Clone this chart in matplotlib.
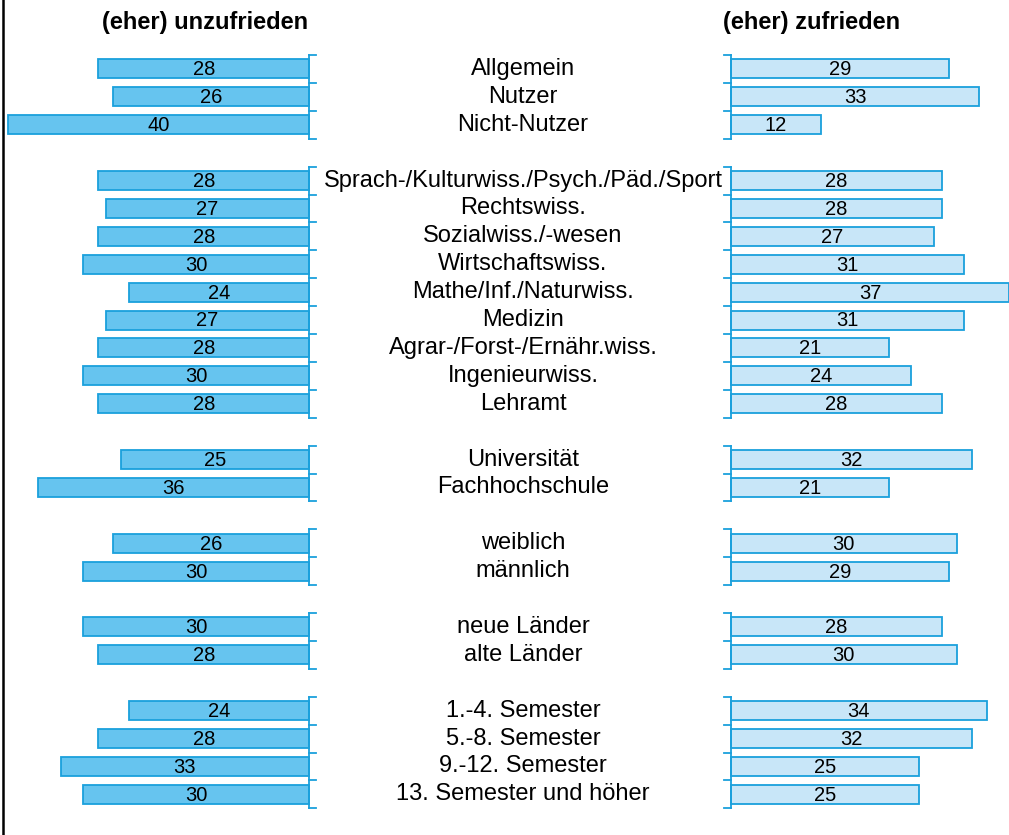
import matplotlib
matplotlib.use("Agg")
import matplotlib.pyplot as plt
from matplotlib.lines import Line2D

plt.rcParams['font.family'] = ['Liberation Sans', 'DejaVu Sans']

# Zufriedenheit nach Gruppen (Anteile in %)
groups = [
    ["Allgemein", "Nutzer", "Nicht-Nutzer"],
    ["Sprach-/Kulturwiss./Psych./Päd./Sport", "Rechtswiss.", "Sozialwiss./-wesen",
     "Wirtschaftswiss.", "Mathe/Inf./Naturwiss.", "Medizin",
     "Agrar-/Forst-/Ernähr.wiss.", "Ingenieurwiss.", "Lehramt"],
    ["Universität", "Fachhochschule"],
    ["weiblich", "männlich"],
    ["neue Länder", "alte Länder"],
    ["1.-4. Semester", "5.-8. Semester", "9.-12. Semester", "13. Semester und höher"],
]
unzufrieden = [28, 26, 40,
               28, 27, 28, 30, 24, 27, 28, 30, 28,
               25, 36,
               26, 30,
               30, 28,
               24, 28, 33, 30]
zufrieden = [29, 33, 12,
             28, 28, 27, 31, 37, 31, 21, 24, 28,
             32, 21,
             30, 29,
             28, 30,
             34, 32, 25, 25]

W, H = 1009, 835
px_per_unit = 7.52
row_px = 27.9
first_row_px = 69
edge_blue = "#1aa0dc"
left_fill = "#66c4ef"
right_fill = "#c8e6f8"

# Zeilenpositionen mit Leerzeile zwischen den Gruppen
labels, ypos, spans = [], [], []
slot = 0
for g in groups:
    start = slot
    for name in g:
        labels.append(name)
        ypos.append(slot)
        slot += 1
    spans.append((start, slot - 1))
    slot += 1

ylim = ((H - first_row_px) / row_px, -first_row_px / row_px)

fig = plt.figure(figsize=(W / 100, H / 100), dpi=100)
ax_l = fig.add_axes([0, 0, 309 / W, 1])
ax_m = fig.add_axes([309 / W, 0, 422 / W, 1])
ax_r = fig.add_axes([731 / W, 0, 278 / W, 1])

ax_l.set_xlim(309 / px_per_unit, 0)
ax_r.set_xlim(0, 278 / px_per_unit)
ax_m.set_xlim(0, 1)
for ax in (ax_l, ax_m, ax_r):
    ax.set_ylim(*ylim)
    ax.axis("off")

bar_h = 19 / row_px
ax_l.barh(ypos, unzufrieden, height=bar_h, color=left_fill, edgecolor=edge_blue,
          linewidth=1.3, clip_on=False)
ax_r.barh(ypos, zufrieden, height=bar_h, color=right_fill, edgecolor=edge_blue,
          linewidth=1.3, clip_on=False)

for y, v in zip(ypos, unzufrieden):
    ax_l.text(v / 2, y + 0.03, str(v), ha="center", va="center", fontsize=14.5)
for y, v in zip(ypos, zufrieden):
    ax_r.text(v / 2, y + 0.03, str(v), ha="center", va="center", fontsize=14.5)
for y, name in zip(ypos, labels):
    ax_m.text((523 - 309) / 422, y, name, ha="center", va="center", fontsize=17)

# Achsensegmente je Gruppe mit Teilstrichen an den Zeilengrenzen
tick = 7 / px_per_unit
for a, b in spans:
    top, bot = a - 0.5, b + 0.5
    ax_l.plot([0, 0], [top, bot], color=edge_blue, lw=1.3, clip_on=False)
    ax_r.plot([0, 0], [top, bot], color=edge_blue, lw=1.3, clip_on=False)
    for k in range(a, b + 2):
        yb = k - 0.5
        ax_l.plot([0, -tick], [yb, yb], color=edge_blue, lw=1.3, clip_on=False)
        ax_r.plot([-tick, 0], [yb, yb], color=edge_blue, lw=1.3, clip_on=False)

fig.text(308 / W, 1 - 22 / H, "(eher) unzufrieden", ha="right", va="center",
         fontsize=17, fontweight="bold")
fig.text(723 / W, 1 - 22 / H, "(eher) zufrieden", ha="left", va="center",
         fontsize=17, fontweight="bold")

fig.add_artist(Line2D([2.5 / W, 2.5 / W], [0, 1], color="black", lw=1.8))

fig.savefig("out.png", dpi=100)
